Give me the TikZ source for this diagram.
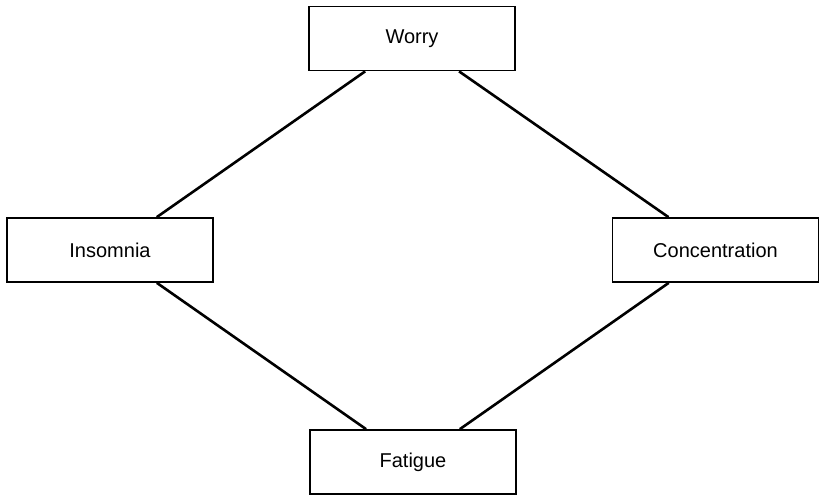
\documentclass[tikz,border=0pt]{standalone}
\usepackage{fontspec}
\setmainfont{Liberation Sans}
\usetikzlibrary{positioning}
\tikzset{
  box/.style={draw=black, fill=white, line width=1.7pt, minimum width=206pt,
              minimum height=64pt, inner sep=0pt, align=center,
              font=\fontsize{20}{24}\selectfont},
  link/.style={draw=black, line width=2.6pt},
}

\begin{document}
\begin{tikzpicture}[x=1pt,y=-1pt]
    \useasboundingbox (0,0) rectangle (820,496);
    % the four boxes
    \node[box] (worry) at (412,38.5) {Worry};
    \node[box] (insomnia) at (110,250) {Insomnia};
    \node[box] (concentration) at (715.5,250) {Concentration};
    \node[box] (fatigue) at (413,462) {Fatigue};
    % connectors
    \draw[link] (worry) -- (insomnia);
    \draw[link] (worry) -- (concentration);
    \draw[link] (insomnia) -- (fatigue);
    \draw[link] (concentration) -- (fatigue);
\end{tikzpicture}
\end{document}
